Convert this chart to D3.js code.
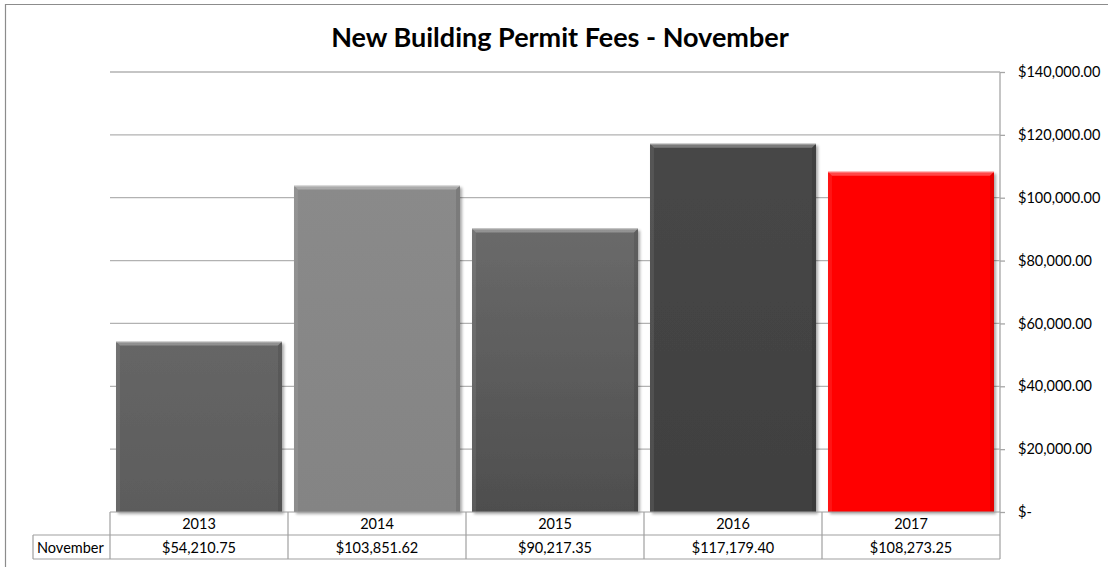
<!DOCTYPE html>
<html><head><meta charset="utf-8">
<script src="https://cdn.jsdelivr.net/npm/d3@7"></script>
<style>html,body{margin:0;padding:0;background:#fff;overflow:hidden;}svg{display:block;font-family:Lato,"Open Sans",sans-serif;}</style>
</head><body><svg id="c" width="1108" height="567"></svg>
<script>
const categories = ["2013","2014","2015","2016","2017"];
const values = [54210.75, 103851.62, 90217.35, 117179.40, 108273.25];
const seriesName = "November";
const valueLabels = ["$54,210.75","$103,851.62","$90,217.35","$117,179.40","$108,273.25"];
const yTicks = [0,20000,40000,60000,80000,100000,120000,140000];
const barTop = ["#666666","#8a8a8a","#6a6a6a","#474747","#ff0000"];
const barBottom = ["#5c5c5c","#848484","#4e4e4e","#404040","#ff0000"];

(function(){
const svg = d3.select("#c");
const W=1108,H=567;
const pL=110,pR=1000,pT=72,pB=512;
const fs=14.5;
const x = d3.scaleBand().domain(categories).range([pL,pR]).paddingInner(0.0674).paddingOuter(0.0337);
const xCol = d3.scaleBand().domain(categories).range([pL,pR]);
const y = d3.scaleLinear().domain([0,140000]).range([pB,pT]);

svg.append("path").attr("d",`M5.5,${H+5}V4.5H${W+5}`)
  .attr("fill","none").attr("stroke","#8c8c8c").attr("stroke-width",1.2);

svg.append("text").attr("x",560).attr("y",47).attr("text-anchor","middle")
  .attr("font-weight","bold").attr("font-size",27).attr("fill","#000")
  .text("New Building Permit Fees - November");

const yAxis = d3.axisRight(y).tickValues(yTicks).tickSize(5).tickPadding(13)
  .tickFormat(d => d===0 ? "$-" : "$"+d3.format(",.2f")(d));
const ga = svg.append("g").attr("transform",`translate(${pR},0)`).call(yAxis);
ga.select(".domain").attr("stroke","#a6a6a6").attr("stroke-width",1.3).attr("d",`M0,${pT}V${pB}`);
ga.selectAll(".tick line").attr("stroke","#a6a6a6").attr("stroke-width",1.3);
ga.selectAll(".tick text").attr("font-size",fs).attr("fill","#000").attr("font-family","Lato, sans-serif");
svg.append("g").selectAll("line").data(yTicks.filter(d=>d>0)).join("line")
  .attr("x1",pL).attr("x2",pR).attr("y1",d=>y(d)).attr("y2",d=>y(d))
  .attr("stroke","#b2b2b2").attr("stroke-width",1.3);

const defs = svg.append("defs");
categories.forEach((c,i)=>{
  const g = defs.append("linearGradient").attr("id","g"+i).attr("x1",0).attr("y1",0).attr("x2",0).attr("y2",1);
  g.append("stop").attr("offset","0%").attr("stop-color",barTop[i]);
  g.append("stop").attr("offset","100%").attr("stop-color",barBottom[i]);
});
const f = defs.append("filter").attr("id","sh").attr("x","-5%").attr("y","-5%").attr("width","115%").attr("height","115%");
f.append("feGaussianBlur").attr("in","SourceAlpha").attr("stdDeviation",1.5);
f.append("feOffset").attr("dx",1.5).attr("dy",1.5).attr("result","b");
f.append("feComponentTransfer").append("feFuncA").attr("type","linear").attr("slope",0.35);
const m = f.append("feMerge"); m.append("feMergeNode"); m.append("feMergeNode").attr("in","SourceGraphic");

const bars = svg.append("g").selectAll("g").data(categories).join("g");
bars.append("rect").attr("x",d=>x(d)).attr("width",x.bandwidth())
  .attr("y",(d,i)=>y(values[i])).attr("height",(d,i)=>y(0)-y(values[i]))
  .attr("fill",(d,i)=>`url(#g${i})`).attr("filter","url(#sh)");
bars.append("path").attr("d",(d,i)=>{
  const x0=x(d),x1=x(d)+x.bandwidth(),t=y(values[i]),b=4;
  return `M${x0},${t}L${x1},${t}L${x1-b},${t+b}L${x0+b},${t+b}Z`;
}).attr("fill","#ffffff").attr("opacity",0.28);
bars.append("path").attr("d",(d,i)=>{
  const x0=x(d),t=y(values[i]),b=4;
  return `M${x0},${t}L${x0+b},${t+b}L${x0+b},${pB}L${x0},${pB}Z`;
}).attr("fill","#ffffff").attr("opacity",0.08);
bars.append("path").attr("d",(d,i)=>{
  const x1=x(d)+x.bandwidth(),t=y(values[i]),b=4;
  return `M${x1},${t}L${x1-b},${t+b}L${x1-b},${pB}L${x1},${pB}Z`;
}).attr("fill","#000000").attr("opacity",0.1);
bars.append("line").attr("x1",d=>x(d)).attr("x2",d=>x(d)+x.bandwidth())
  .attr("y1",(d,i)=>y(values[i])+0.5).attr("y2",(d,i)=>y(values[i])+0.5)
  .attr("stroke","#ffffff").attr("opacity",0.35);

const tc = "#a0a0a0";
const r0=pB, r1=535, r2=559, legL=33;
const tg = svg.append("g").attr("stroke",tc).attr("stroke-width",1.2).attr("fill","none");
tg.append("line").attr("x1",pL).attr("x2",pR).attr("y1",r0).attr("y2",r0);
tg.append("line").attr("x1",legL).attr("x2",pR).attr("y1",r1).attr("y2",r1);
tg.append("line").attr("x1",legL).attr("x2",pR).attr("y1",r2).attr("y2",r2);
tg.append("line").attr("x1",legL).attr("x2",legL).attr("y1",r1).attr("y2",r2);
tg.selectAll("line.v").data(categories.concat(["end"])).join("line").attr("class","v")
  .attr("x1",d=>d==="end"?pR:xCol(d)).attr("x2",d=>d==="end"?pR:xCol(d))
  .attr("y1",r0).attr("y2",r2);
svg.append("g").selectAll("text").data(categories).join("text")
  .attr("x",d=>xCol(d)+xCol.bandwidth()/2).attr("y",528.5).attr("text-anchor","middle")
  .attr("font-size",fs).text(d=>d);
svg.append("g").selectAll("text").data(valueLabels).join("text")
  .attr("x",(d,i)=>xCol(categories[i])+xCol.bandwidth()/2).attr("y",552.5).attr("text-anchor","middle")
  .attr("font-size",fs).text(d=>d);
svg.append("text").attr("x",37).attr("y",552.5).attr("font-size",fs).text(seriesName);
})();
</script></body></html>
